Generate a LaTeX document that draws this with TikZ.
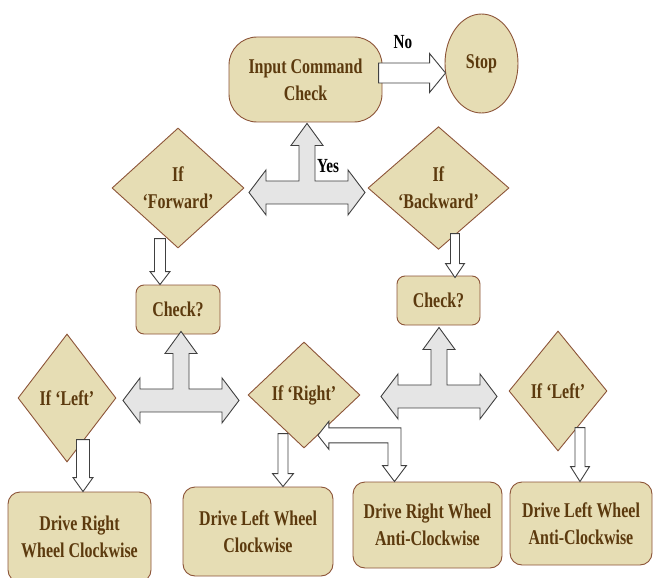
\documentclass[tikz,border=0pt]{standalone}
\usepackage{fontspec}
\setmainfont{Liberation Serif}[FakeStretch=0.76]
\usepackage{tikz}
\usetikzlibrary{shapes.geometric, calc}

\definecolor{boxfill}{RGB}{230,221,180}
\definecolor{boxline}{RGB}{140,84,56}
\definecolor{boxtext}{RGB}{92,58,14}

% block arrow: angle, tip, length, shaft half width, head half width, head length
\newcommand{\hollowarrow}[6]{%
  \draw[blockline, fill=white, shift={#2}, rotate=#1]
    (0,0) -- (-#6,#5) -- (-#6,#4) -- (-#3,#4) -- (-#3,-#4) -- (-#6,-#4) -- (-#6,-#5) -- cycle;}
% three-headed T arrow, tip of the upper head given
\newcommand{\teearrow}[1]{%
  \draw[blockline, fill=gray!20, shift={#1}]
    (0,0) -- (16,22) -- (8,22) -- (8,57.5) -- (41,57.5) -- (41,46.5) -- (58,69) -- (41,91.5)
    -- (41,80.5) -- (-41,80.5) -- (-41,91.5) -- (-58,69) -- (-41,46.5) -- (-41,57.5)
    -- (-8,57.5) -- (-8,22) -- (-16,22) -- cycle;}

\begin{document}
\begin{tikzpicture}[x=1pt, y=-1pt,
    every node/.style={font=\fontsize{21}{27}\selectfont\bfseries, text=boxtext},
    proc/.style={draw=boxline, fill=boxfill, line width=0.9pt, rounded corners=12pt,
                 align=center, inner sep=0pt},
    decide/.style={draw=boxline, fill=boxfill, line width=0.9pt, diamond,
                   align=center, inner sep=0pt},
    tag/.style={text=black, font=\fontsize{20}{24}\selectfont\bfseries},
    blockline/.style={draw=black!75, line width=0.9pt}]
  \useasboundingbox (0,0) rectangle (654,578);

  % Command check and stop
  \node[proc, rounded corners=28pt, minimum width=153pt, minimum height=85pt] (cmd)
    at (305.5,79.5) {Input Command\\Check};
  \node[draw=boxline, fill=boxfill, line width=0.9pt, ellipse, inner sep=0pt,
        minimum width=73pt, minimum height=99pt] (stop) at (481.5,63.5) {Stop};
  \node[tag] (no) at (403,42) {No};
  \node[tag] (yes) at (328,166) {Yes};

  % Direction tests
  \node[decide, minimum width=132pt, minimum height=120pt] (fwd) at (178,188) {If\\`Forward'};
  \node[decide, minimum width=141pt, minimum height=120pt] (bwd) at (438.5,188) {If\\`Backward'};
  \node[proc, rounded corners=8pt, minimum width=84pt, minimum height=49pt] (chkL)
    at (178,309.5) {Check?};
  \node[proc, rounded corners=8pt, minimum width=83pt, minimum height=49pt] (chkR)
    at (438.5,300.5) {Check?};
  \node[decide, minimum width=98pt, minimum height=128pt] (lftL) at (67,398) {If `Left'};
  \node[decide, minimum width=112pt, minimum height=106pt] (rgt) at (304,395) {If `Right'};
  \node[decide, minimum width=98pt, minimum height=120pt] (lftR) at (558,391) {If `Left'};

  % Wheel actions
  \node[proc, minimum width=143pt, minimum height=90pt] (drc) at (79.5,537)
    {Drive Right\\Wheel Clockwise};
  \node[proc, minimum width=150pt, minimum height=89pt] (dlc) at (258,531.5)
    {Drive Left Wheel\\Clockwise};
  \node[proc, minimum width=149pt, minimum height=86pt] (drra) at (427.5,525)
    {Drive Right Wheel\\Anti-Clockwise};
  \node[proc, minimum width=142pt, minimum height=83pt] (dlra) at (581,523.5)
    {Drive Left Wheel\\Anti-Clockwise};

  % Hollow arrows
  \hollowarrow{0}{($(stop.west)+(1,9.5)$)}{67}{10}{19.5}{16}
  \hollowarrow{-90}{($(chkL.north)+(-18,0)$)}{46}{5.5}{10}{13}
  \hollowarrow{-90}{($(chkR.north)+(16.5,2)$)}{44}{4.5}{9.5}{14}
  \hollowarrow{-90}{($(drc.north)+(3.5,0)$)}{52}{6.5}{10}{14}
  \hollowarrow{-90}{($(dlc.north)+(25,0)$)}{53}{5}{10.5}{13}
  \hollowarrow{-90}{($(dlra.north)+(-1,0)$)}{54}{5}{9.5}{15}

  % Yes / check branches
  \teearrow{($(cmd.south)+(1.5,1)$)}
  \teearrow{($(chkL.south)+(3,-3)$)}
  \teearrow{($(chkR.south)+(0.5,2)$)}

  % Link between right turn and right wheel
  \coordinate (lt) at (rgt.-71);
  \coordinate (dt) at ($(drra.north)+(-33,0)$);
  \draw[blockline, fill=white] (lt) -- ++(11,-14) -- ++(0,6.5)
    -- ($(lt -| dt)+(6.5,-7.5)$) -- ($(dt)+(6.5,-16)$) -- ++(5.5,0) -- (dt)
    -- ++(-12,-16) -- ++(5.5,0) -- ($(lt -| dt)+(-6.5,7.5)$)
    -- ($(lt)+(11,7.5)$) -- ++(0,6.5) -- cycle;
\end{tikzpicture}
\end{document}
